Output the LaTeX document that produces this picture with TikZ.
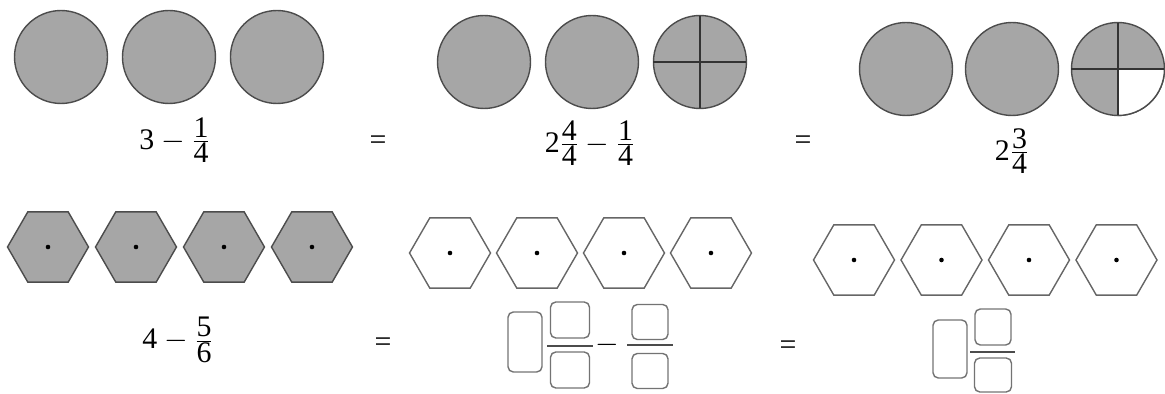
\documentclass[tikz,border=0pt]{standalone}
\usepackage{amsmath}
\usepackage{fontspec}
\setmainfont{Liberation Serif}
\usetikzlibrary{positioning,shapes.geometric}
\newcommand{\frc}[2]{\genfrac{}{}{0.6pt}{1}{\textstyle\text{#1}}{\textstyle\text{#2}}}

\begin{document}
\begin{tikzpicture}[x=0.02cm, y=-0.02cm,
      pie/.style = {draw=black!70, fill=black!35, circle, minimum size=1.86cm,
        inner sep=0pt, outer sep=0pt},
      hexa/.style = {draw=black!60, regular polygon, regular polygon sides=6,
        minimum size=1.62cm, inner sep=0pt, outer sep=0pt},
      full/.style = {hexa, draw=black!70, fill=black!35},
      slot/.style = {draw=black!55, rounded corners=3pt, minimum width=0.78cm,
        minimum height=0.72cm, inner sep=0pt},
      whole/.style = {slot, minimum width=0.68cm, minimum height=1.2cm},
      sum/.style = {font=\fontsize{17}{20}\selectfont, inner sep=0pt},
      node distance = 0.3cm, thick]
      \useasboundingbox (0,0) rectangle (1165,394);

      % first row
      \node[pie] (a1) at (61,57) {};
      \node[pie] (a2) [right=of a1] {};
      \node[pie] (a3) [right=of a2] {};
      \node[pie] (b1) at (484,62) {};
      \node[pie] (b2) [right=of b1] {};
      \node[pie] (b3) [right=of b2] {};
      \node[pie] (c1) at (906,69) {};
      \node[pie] (c2) [right=0.26cm of c1] {};
      \node[pie] (c3) [right=0.26cm of c2] {};

      \draw[black!80] (b3.north) -- (b3.south) (b3.west) -- (b3.east);
      \filldraw[fill=white, draw=black!70] (c3.center) -- (c3.east)
        arc[start angle=0, end angle=-90, radius=0.93cm] -- cycle;
      \draw[black!80] (c3.north) -- (c3.south) (c3.west) -- (c3.east);

      \node[sum] (s1) at (175,140) {$\text{3}-\frc{1}{4}$};
      \node[sum] (q1) at (378,143) {=};
      \node[sum] (s2) at (590,143) {$\text{2}\frc{4}{4}-\frc{1}{4}$};
      \node[sum] (q2) at (803,143) {=};
      \node[sum] (s3) at (1012,151) {$\text{2}\frc{3}{4}$};

      % second row
      \node[full] (h1) at (48,247) {};
      \node[full] (h2) [right=0.14cm of h1] {};
      \node[full] (h3) [right=0.14cm of h2] {};
      \node[full] (h4) [right=0.14cm of h3] {};
      \node[hexa] (k1) at (450,253) {};
      \node[hexa] (k2) [right=0.12cm of k1] {};
      \node[hexa] (k3) [right=0.12cm of k2] {};
      \node[hexa] (k4) [right=0.12cm of k3] {};
      \node[hexa] (m1) at (854,260) {};
      \node[hexa] (m2) [right=0.13cm of m1] {};
      \node[hexa] (m3) [right=0.13cm of m2] {};
      \node[hexa] (m4) [right=0.13cm of m3] {};
      \foreach \h in {h1,h2,h3,h4,k1,k2,k3,k4,m1,m2,m3,m4}
        \fill (\h) circle (1.3pt);

      \node[sum] (s4) at (178,340) {$\text{4}-\frc{5}{6}$};
      \node[sum] (q3) at (383,345) {=};
      \node[sum] (q4) at (788,348) {=};

      % empty boxes
      \node[whole] (w1) at (525,342) {};
      \node[slot] (n1) at (570,320) {};
      \node[slot] (d1) at (570,370) {};
      \coordinate (r1) at (547,346);
      \coordinate (r2) at (593,346);
      \draw[black!70] (r1) -- (r2);
      \node[sum] (minus) at (607,345) {$-$};
      \node[slot, minimum width=0.72cm, minimum height=0.7cm] (n2) at (650,322) {};
      \node[slot, minimum width=0.72cm, minimum height=0.7cm] (d2) at (650,371) {};
      \coordinate (r3) at (627,345);
      \coordinate (r4) at (673,345);
      \draw[black!70] (r3) -- (r4);

      \node[whole, minimum height=1.16cm] (w2) at (950,349) {};
      \node[slot, minimum width=0.72cm] (n3) at (993,327) {};
      \node[slot, minimum width=0.74cm, minimum height=0.68cm] (d3) at (993,375) {};
      \coordinate (r5) at (970,352);
      \coordinate (r6) at (1015,352);
      \draw[black!70] (r5) -- (r6);
    \end{tikzpicture}
\end{document}
